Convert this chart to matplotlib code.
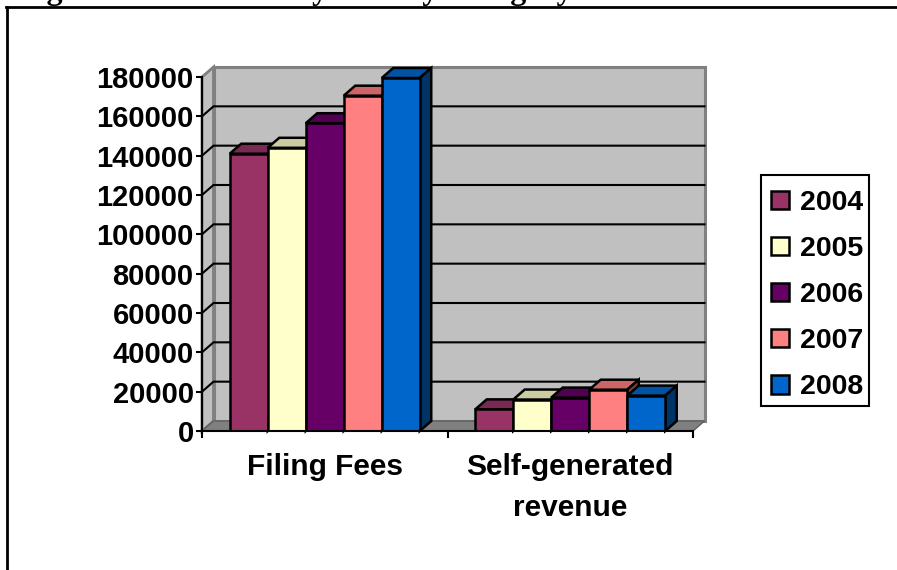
import matplotlib
matplotlib.use("Agg")
import matplotlib.pyplot as plt
from matplotlib.colors import to_rgb
from matplotlib.lines import Line2D
from matplotlib.patches import Polygon, Rectangle

categories = ["Filing Fees", "Self-generated\nrevenue"]
years = ["2004", "2005", "2006", "2007", "2008"]
colors = ["#993366", "#FFFFCC", "#660066", "#FF8080", "#0066CC"]
fees = [141000, 144000, 156500, 170500, 179500]
self_gen = [11000, 16000, 17000, 21000, 18000]
yticks = [0, 20000, 40000, 60000, 80000, 100000, 120000, 140000, 160000, 180000]
title = "Figure 3: Law Library Fees by Category 2004 - 2008"

W, H = 897, 570
plt.rcParams["font.family"] = ["Liberation Sans", "DejaVu Sans"]
plt.rcParams["font.weight"] = "bold"
plt.rcParams["font.size"] = 20.5

fig = plt.figure(figsize=(W / 100, H / 100), dpi=100)
ax = fig.add_axes([202 / W, (H - 431) / H, 491 / W, 354 / H])
ax.set_xlim(0, 2)
ax.set_ylim(0, 180000)

# depth of the fake 3d, in data units
dx = 11.5 / 245.5
dy = 10 / 354 * 180000
xmax = 2
ymax = 180000

def shade(c, f):
    return tuple(v * f for v in to_rgb(c))

def poly(pts, fc, ec, z, lw=1.8):
    ax.add_patch(Polygon(pts, closed=True, facecolor=fc, edgecolor=ec, lw=lw,
                         zorder=z, clip_on=False, joinstyle="miter"))

# walls and floor
poly([(0, 0), (dx, dy), (dx, ymax + dy), (0, ymax)], "#C0C0C0", "#808080", 0.5, 2)
poly([(dx, dy), (xmax + dx, dy), (xmax + dx, ymax + dy), (dx, ymax + dy)], "#C0C0C0", "#808080", 0.6, 2.2)
poly([(0, 0), (xmax, 0), (xmax + dx, dy), (dx, dy)], "#808080", "#606060", 0.7, 1)

# gridlines on the back wall and the left wall
for t in yticks[1:-1]:
    ax.plot([0, dx, xmax + dx], [t, t + dy, t + dy], color="black", lw=1.5,
            zorder=1, clip_on=False, solid_joinstyle="miter")

bar_w = 38 / 245.5
for i, year in enumerate(years):
    vals = [fees[i], self_gen[i]]
    xs = [g + 0.5 + (i - 2) * bar_w for g in range(len(categories))]
    z = 3 + i
    ax.bar(xs, vals, bar_w, color=colors[i], edgecolor="black", lw=1.8,
           label=year, zorder=z + 0.5)
    for x, v in zip(xs, vals):
        x0 = x - bar_w / 2
        x1 = x + bar_w / 2
        poly([(x0, v), (x0 + dx, v + dy), (x1 + dx, v + dy), (x1, v)], shade(colors[i], 0.8), "black", z)
        poly([(x1, 0), (x1 + dx, dy), (x1 + dx, v + dy), (x1, v)], shade(colors[i], 0.5), "black", z)

for s in ["top", "right"]:
    ax.spines[s].set_visible(False)
for s in ["left", "bottom"]:
    ax.spines[s].set_linewidth(1.5)
    ax.spines[s].set_zorder(20)

ax.set_yticks(yticks)
ax.tick_params(axis="y", length=4, width=1.5, pad=2, labelsize=21)
ax.set_xticks([0, 1, 2])
ax.set_xticklabels([])
ax.tick_params(axis="x", which="major", length=5, width=1.5)
ax.set_xticks([0.5, 1.5], minor=True)
ax.set_xticklabels(categories, minor=True, linespacing=1.6)
ax.tick_params(axis="x", which="minor", length=0, width=0, pad=16, labelsize=21.5)

# legend frame is narrower on the right than the legend's own padding allows
ax.legend(loc="upper left", bbox_to_anchor=(761 / W, 1 - 180 / H), bbox_transform=fig.transFigure,
          frameon=False, handlelength=0.63, handleheight=0.63,
          handletextpad=0.38, labelspacing=0.705, borderpad=0.35, borderaxespad=0)
fig.add_artist(Rectangle((761 / W, 1 - 406 / H), 108 / W, 231 / H, transform=fig.transFigure,
                         facecolor="white", edgecolor="black", lw=1.5, zorder=2))
ax.set_zorder(3)
ax.patch.set_visible(False)

# outer chart border, and the document caption cut by the crop
fig.add_artist(Line2D([6.5 / W, 6.5 / W], [0, 1 - 6.5 / H], color="black", lw=2))
fig.add_artist(Line2D([6 / W, 1], [1 - 6.5 / H, 1 - 6.5 / H], color="black", lw=2))
fig.text(18 / W, 1 + 1 / H, title, family="Liberation Serif", fontweight="bold", fontsize=23,
         ha="left", va="baseline")

fig.savefig("out.png", dpi=100)
